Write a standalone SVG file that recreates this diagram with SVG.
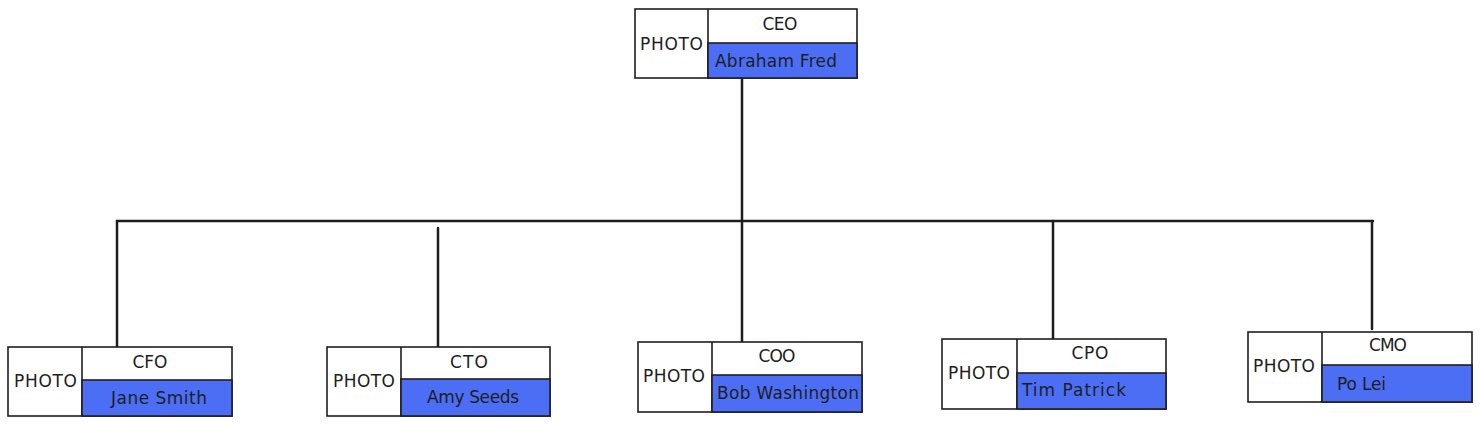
<svg xmlns="http://www.w3.org/2000/svg" width="1480" height="426" viewBox="0 0 1480 426">
<style>
.bg{fill:#ffffff}
.box{fill:#ffffff;stroke:#1e1e1e;stroke-width:1.6}
.name{fill:#4c6ef5;stroke:#1e1e1e;stroke-width:1.6}
.t{font-family:"DejaVu Sans",sans-serif;font-size:17px;fill:#1e1e1e}
.c{text-anchor:middle}
.line{stroke:#1e1e1e;stroke-width:2.5;fill:none;stroke-linecap:round}
</style>
<rect class="bg" x="0" y="0" width="1480" height="426"/>
<g id="connectors">
<line class="line" x1="742" y1="78" x2="742" y2="341"/>
<line class="line" x1="117" y1="221" x2="1373" y2="221"/>
<line class="line" x1="117" y1="221" x2="117" y2="347"/>
<line class="line" x1="438" y1="228" x2="438" y2="347"/>
<line class="line" x1="1053" y1="221" x2="1053" y2="339"/>
<line class="line" x1="1372" y1="221" x2="1372" y2="329"/>
</g>
<g id="ceo">
<rect class="box" x="635" y="9" width="222" height="69"/>
<line class="box" x1="708" y1="9" x2="708" y2="78"/>
<rect class="name" x="708" y="43" width="149" height="35"/>
<text class="t" x="640" y="50" textLength="63">PHOTO</text>
<text class="t c" x="780" y="30" textLength="35">CEO</text>
<text class="t" x="715" y="67" textLength="122">Abraham Fred</text>
</g>
<g id="cfo">
<rect class="box" x="8" y="347" width="224" height="69"/>
<line class="box" x1="82" y1="347" x2="82" y2="416"/>
<rect class="name" x="82" y="380" width="150" height="36"/>
<text class="t" x="14" y="387" textLength="63">PHOTO</text>
<text class="t c" x="150" y="368" textLength="35">CFO</text>
<text class="t" x="111" y="404" textLength="96">Jane Smith</text>
</g>
<g id="cto">
<rect class="box" x="327" y="347" width="223" height="69"/>
<line class="box" x1="401" y1="347" x2="401" y2="416"/>
<rect class="name" x="401" y="379" width="149" height="37"/>
<text class="t" x="333" y="387" textLength="62">PHOTO</text>
<text class="t c" x="469" y="368" textLength="38">CTO</text>
<text class="t" x="427" y="403" textLength="92">Amy Seeds</text>
</g>
<g id="coo">
<rect class="box" x="638" y="342" width="224" height="70"/>
<line class="box" x1="712" y1="342" x2="712" y2="412"/>
<rect class="name" x="712" y="375" width="150" height="37"/>
<text class="t" x="643" y="382" textLength="62">PHOTO</text>
<text class="t c" x="777" y="362" textLength="37">COO</text>
<text class="t" x="717" y="399" textLength="142">Bob Washington</text>
</g>
<g id="cpo">
<rect class="box" x="942" y="339" width="224" height="70"/>
<line class="box" x1="1017" y1="339" x2="1017" y2="409"/>
<rect class="name" x="1017" y="373" width="149" height="36"/>
<text class="t" x="948" y="379" textLength="62">PHOTO</text>
<text class="t c" x="1090" y="359" textLength="37">CPO</text>
<text class="t" x="1022" y="396" textLength="104">Tim Patrick</text>
</g>
<g id="cmo">
<rect class="box" x="1248" y="332" width="224" height="70"/>
<line class="box" x1="1322" y1="332" x2="1322" y2="402"/>
<rect class="name" x="1322" y="365" width="150" height="37"/>
<text class="t" x="1253" y="372" textLength="62">PHOTO</text>
<text class="t c" x="1388" y="351" textLength="38">CMO</text>
<text class="t" x="1337" y="390" textLength="49">Po Lei</text>
</g>
</svg>
